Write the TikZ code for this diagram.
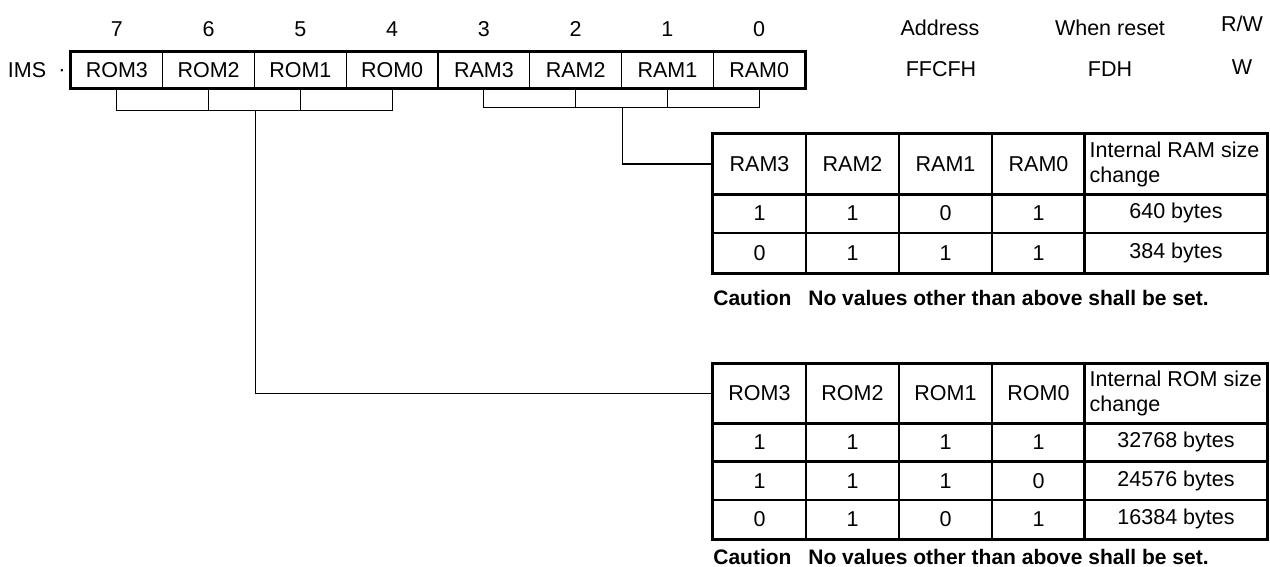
\documentclass[tikz,border=0pt]{standalone}
\usepackage{fontspec}
\setmainfont{Liberation Sans}
\usetikzlibrary{calc}
\begin{document}
\begin{tikzpicture}[x=0.5pt,y=-0.5pt,
  txt/.style={font=\fontsize{10.75}{12}\selectfont, inner sep=0pt},
  cell/.style={draw, line width=0.7pt, inner sep=0pt, font=\fontsize{10.75}{12}\selectfont, anchor=center},
  regcell/.style={cell, minimum width=45.875pt, minimum height=18pt},
  tabcell/.style={cell, minimum width=46.5pt, minimum height=19.75pt},
  tabhead/.style={cell, minimum width=46.5pt, minimum height=29.75pt},
  sizehead/.style={cell, minimum width=91pt, minimum height=29.75pt},
  sizetext/.style={txt, anchor=west, align=left, font=\fontsize{10.75}{12.5}\selectfont},
  sizecell/.style={cell, minimum width=91pt, minimum height=19.75pt},
  thickline/.style={line width=1.5pt},
  conn/.style={line width=0.6pt},
  caution/.style={font=\bfseries\fontsize{10.5}{12}\selectfont, anchor=west, inner sep=0pt}]
\useasboundingbox (0,0) rectangle (1270,567);

% register
\foreach \k/\lab/\bit in {0/ROM3/7,1/ROM2/6,2/ROM1/5,3/ROM0/4,4/RAM3/3,5/RAM2/2,6/RAM1/1,7/RAM0/0} {
  \node[regcell] (r\bit) at ({71+91.75*(\k+0.5)},70) {\lab};
  \node[txt] (b\bit) at ({71+91.75*(\k+0.5)},29) {\bit};
}
\draw[thickline] (r7.north west) rectangle (r0.south east);
\node[txt] (ims) at (27,70) {IMS};
\node[txt] (imsdot) at (62,73) {·};

% header info
\node[txt] (addr) at (940,28) {Address};
\node[txt] (reset) at (1110,28) {When reset};
\node[txt] (rw) at (1242,24) {R/W};
\node[txt] (addrv) at (941,69) {FFCFH};
\node[txt] (resetv) at (1110,69) {FDH};
\node[txt] (rwv) at (1242,67) {W};

% RAM table
\foreach \lab [count=\i] in {RAM3,RAM2,RAM1,RAM0} {
  \node[tabhead] (ramh\i) at ({713+93*(\i-0.5)},164) {\lab};
}
\node[sizehead] (ramh5) at (1176,164) {};
\node[sizetext] (ramht) at ([xshift=2.5pt]ramh5.west) {Internal RAM size\\change};
\foreach \a/\b/\c/\d/\s [count=\r] in {1/1/0/1/640 bytes,0/1/1/1/384 bytes} {
  \foreach \v [count=\i] in {\a,\b,\c,\d} {
    \node[tabcell] (ramr\r c\i) at ({713+93*(\i-0.5)},{193.5+39.5*(\r-0.5)}) {\v};
  }
  \node[sizecell] (ramr\r c5) at (1176,{193.5+39.5*(\r-0.5)}) {\s};
}
\draw[thickline] (ramh1.north west) rectangle (ramr2c5.south east);
\draw[thickline] (ramh1.south west) -- (ramh5.south east);
\draw[thickline] (ramh5.north west) -- (ramr2c5.south west);
\node[caution] (ramcaut) at (713,298) {Caution\hspace{0.8em}No values other than above shall be set.};

% ROM table
\foreach \lab [count=\i] in {ROM3,ROM2,ROM1,ROM0} {
  \node[tabhead] (romh\i) at ({713+93*(\i-0.5)},393.5) {\lab};
}
\node[sizehead] (romh5) at (1176,393.5) {};
\node[sizetext] (romht) at ([xshift=2.5pt]romh5.west) {Internal ROM size\\change};
\foreach \a/\b/\c/\d/\s [count=\r] in {1/1/1/1/32768 bytes,1/1/1/0/24576 bytes,0/1/0/1/16384 bytes} {
  \foreach \v [count=\i] in {\a,\b,\c,\d} {
    \node[tabcell] (romr\r c\i) at ({713+93*(\i-0.5)},{423+38.5*(\r-0.5)}) {\v};
  }
  \node[sizecell] (romr\r c5) at (1176,{423+38.5*(\r-0.5)}) {\s};
}
\draw[thickline] (romh1.north west) rectangle (romr3c5.south east);
\draw[thickline] (romh1.south west) -- (romh5.south east);
\draw[thickline] (romh5.north west) -- (romr3c5.south west);
\node[caution] (romcaut) at (713,557) {Caution\hspace{0.8em}No values other than above shall be set.};

% brackets and connectors
\draw[conn] (r7.south) -- ++(0,22) -| (r4.south);
\draw[conn] (r6.south) -- ++(0,22);
\draw[conn] (r5.south) -- ++(0,22);
\coordinate (romc) at ([yshift=-11pt]r6.south east);
\draw[conn] (romc) |- (romh1.west);

\draw[conn] (r3.south) -- ++(0,19) -| (r0.south);
\draw[conn] (r2.south) -- ++(0,19);
\draw[conn] (r1.south) -- ++(0,19);
\coordinate (ramc) at ([yshift=-9.5pt]r2.south east);
\draw[conn] (ramc) |- (ramh1.west);
\end{tikzpicture}
\end{document}
